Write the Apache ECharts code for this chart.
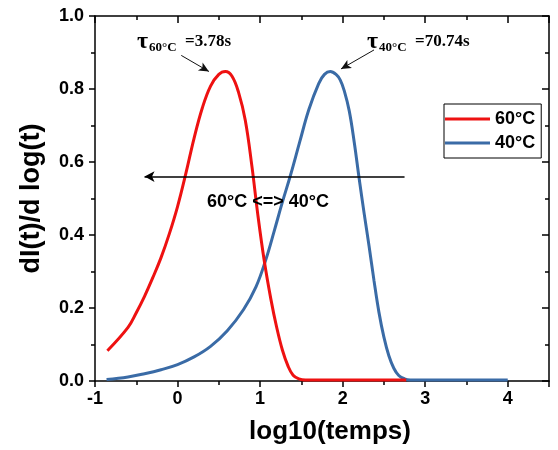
<!DOCTYPE html>
<html>
<head>
<meta charset="utf-8">
<script src="https://cdn.jsdelivr.net/npm/echarts@6/dist/echarts.min.js"></script>
<style>html,body{margin:0;padding:0;background:#fff;}#c{width:558px;height:450px;}</style>
</head>
<body>
<div id="c"></div>
<script>
// Data
var seriesNames = ['60°C', '40°C'];
var redX = [-0.85, -0.60, -0.50, -0.40, -0.30, -0.20, -0.10, 0.00, 0.10, 0.20, 0.30, 0.40, 0.50, 0.58, 0.66, 0.74, 0.82, 0.90, 0.97, 1.05, 1.13, 1.20, 1.27, 1.34, 1.40, 1.47, 1.55, 2.00, 2.77];
var redY = [0.083, 0.147, 0.187, 0.232, 0.283, 0.338, 0.403, 0.478, 0.568, 0.665, 0.748, 0.808, 0.840, 0.848, 0.835, 0.790, 0.715, 0.590, 0.460, 0.330, 0.225, 0.148, 0.085, 0.040, 0.016, 0.006, 0.003, 0.003, 0.003];
var blueX = [-0.86, -0.60, -0.40, -0.20, 0.00, 0.20, 0.40, 0.60, 0.80, 0.95, 1.07, 1.17, 1.27, 1.37, 1.48, 1.59, 1.71, 1.78, 1.85, 1.92, 1.97, 2.02, 2.08, 2.14, 2.20, 2.26, 2.32, 2.38, 2.44, 2.50, 2.56, 2.62, 2.68, 2.75, 2.82, 3.00, 4.00];
var blueY = [0.004, 0.011, 0.020, 0.031, 0.045, 0.066, 0.095, 0.137, 0.196, 0.258, 0.333, 0.410, 0.490, 0.565, 0.655, 0.743, 0.815, 0.840, 0.848, 0.840, 0.825, 0.795, 0.740, 0.655, 0.555, 0.460, 0.370, 0.275, 0.188, 0.120, 0.069, 0.035, 0.015, 0.006, 0.003, 0.003, 0.003];
// Annotation arrows (data coordinates)
var arrow60 = [[0.045, 0.892], [0.38, 0.848]];
var arrow40 = [[2.38, 0.907], [1.98, 0.855]];
var shiftArrow = [[2.75, 0.56], [-0.40, 0.56]];
var tau60 = {sub: '60°C', value: '=3.78s'};
var tau40 = {sub: '40°C', value: '=70.74s'};
var shiftText = '60°C <=> 40°C';

function zip(a, b) { return a.map(function (v, i) { return [v, b[i]]; }); }

var chart = echarts.init(document.getElementById('c'), null, {renderer: 'canvas'});
var sans = 'Liberation Sans, Arial, sans-serif';
var serif = 'Liberation Serif, Times New Roman, serif';

var axisCommon = {
  axisLine: {show: true, onZero: false, lineStyle: {color: '#000', width: 1.5}},
  splitLine: {show: false}
};

var option = {
  backgroundColor: '#fff',
  animation: false,
  grid: {left: 95, right: 9, top: 16, bottom: 68},
  legend: {
    orient: 'vertical', left: 444, top: 104,
    icon: 'rect', itemWidth: 45, itemHeight: 3, itemGap: 4,
    padding: [5, 6, 5, 1],
    borderColor: '#000', borderWidth: 1,
    backgroundColor: '#fff',
    textStyle: {fontFamily: sans, fontWeight: 'bold', fontSize: 18, color: '#000', lineHeight: 20},
    data: seriesNames
  },
  xAxis: [
    Object.assign({}, axisCommon, {
      type: 'value', position: 'bottom', min: -1, max: 4.5, interval: 1,
      name: 'log10(temps)', nameLocation: 'middle', nameGap: 38,
      nameTextStyle: {fontFamily: sans, fontWeight: 'bold', fontSize: 26, color: '#000', padding: [0, 0, 0, 16]},
      axisTick: {show: true, inside: false, length: 6, lineStyle: {color: '#000', width: 1.5}},
      minorTick: {show: true, splitNumber: 2, length: 4, lineStyle: {color: '#000', width: 1.5}},
      axisLabel: {show: true, showMaxLabel: false, margin: 9, fontFamily: sans, fontWeight: 'bold', fontSize: 18, color: '#000'}
    }),
    Object.assign({}, axisCommon, {
      type: 'value', position: 'top', min: -1, max: 4.5, interval: 1,
      axisTick: {show: true, inside: true, length: 7, lineStyle: {color: '#000', width: 1.5}},
      minorTick: {show: true, splitNumber: 2, length: 4, lineStyle: {color: '#000', width: 1.5}},
      axisLabel: {show: false}
    })
  ],
  yAxis: [
    Object.assign({}, axisCommon, {
      type: 'value', position: 'left', min: 0, max: 1.0, interval: 0.2,
      name: 'dI(t)/d log(t)', nameLocation: 'middle', nameGap: 50,
      nameTextStyle: {fontFamily: sans, fontWeight: 'bold', fontSize: 27, color: '#000'},
      axisTick: {show: true, inside: false, length: 6, lineStyle: {color: '#000', width: 1.5}},
      minorTick: {show: true, splitNumber: 2, length: 4, lineStyle: {color: '#000', width: 1.5}},
      axisLabel: {show: true, margin: 11, fontFamily: sans, fontWeight: 'bold', fontSize: 18, color: '#000',
        formatter: function (v) { return v.toFixed(1); }}
    }),
    Object.assign({}, axisCommon, {
      type: 'value', position: 'right', min: 0, max: 1.0, interval: 0.2,
      axisTick: {show: true, inside: true, length: 7, lineStyle: {color: '#000', width: 1.5}},
      minorTick: {show: true, splitNumber: 2, length: 4, lineStyle: {color: '#000', width: 1.5}},
      axisLabel: {show: false}
    })
  ],
  series: [
    {
      name: seriesNames[0], type: 'line', xAxisIndex: 0, yAxisIndex: 0,
      data: zip(redX, redY), symbol: 'none', smooth: 0.4,
      lineStyle: {color: '#ee1111', width: 3}, itemStyle: {color: '#ee1111'},
      z: 3,
      markLine: {
        silent: true, animation: false,
        symbol: ['none', 'arrow'], symbolSize: [7, 10],
        label: {show: false},
        lineStyle: {color: '#111', width: 1, type: 'solid'},
        data: [
          [{coord: arrow60[0]}, {coord: arrow60[1]}],
          [{coord: arrow40[0]}, {coord: arrow40[1]}]
        ]
      }
    },
    {
      name: seriesNames[1], type: 'line', xAxisIndex: 0, yAxisIndex: 0,
      data: zip(blueX, blueY), symbol: 'none', smooth: 0.4,
      lineStyle: {color: '#3a6ba6', width: 3}, itemStyle: {color: '#3a6ba6'},
      z: 2,
      markLine: {
        silent: true, animation: false,
        symbol: ['none', 'arrow'], symbolSize: [8, 10],
        label: {show: false},
        lineStyle: {color: '#000', width: 1.5, type: 'solid'},
        data: [[{coord: shiftArrow[0]}, {coord: shiftArrow[1]}]]
      }
    }
  ],
  graphic: [
    {type: 'text', left: 137, top: 30, z: 10, style: {text: 'τ', font: 'bold 24px ' + serif, fill: '#000'}},
    {type: 'text', left: 149, top: 41, z: 10, style: {text: tau60.sub, font: 'bold 13px ' + serif, fill: '#000'}},
    {type: 'text', left: 185, top: 33, z: 10, style: {text: tau60.value, font: 'bold 17px ' + serif, fill: '#000'}},
    {type: 'text', left: 367, top: 30, z: 10, style: {text: 'τ', font: 'bold 24px ' + serif, fill: '#000'}},
    {type: 'text', left: 379, top: 41, z: 10, style: {text: tau40.sub, font: 'bold 13px ' + serif, fill: '#000'}},
    {type: 'text', left: 415, top: 33, z: 10, style: {text: tau40.value, font: 'bold 17px ' + serif, fill: '#000'}},
    {type: 'text', left: 207, top: 193, z: 10, style: {text: shiftText, font: 'bold 18px ' + sans, fill: '#000'}}
  ]
};
chart.setOption(option);
</script>
</body>
</html>
